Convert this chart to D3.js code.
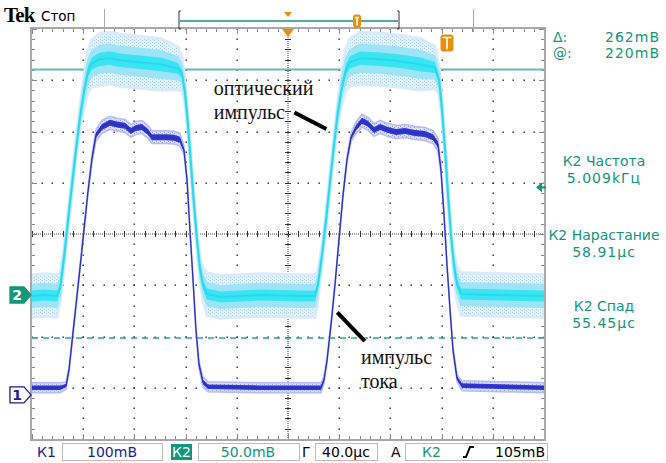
<!DOCTYPE html>
<html><head><meta charset="utf-8">
<script src="https://cdn.jsdelivr.net/npm/d3@7"></script>
<style>body{margin:0;background:#fff}svg{display:block}</style>
</head><body>
<svg id="c" width="666" height="463"></svg>
<script>
// ---------------- DATA ----------------
// Channel 2 (optical pulse), time in µs, value in mV, vertical noise spread in mV
const ch2Time  = [-200,-190,-180.5,-178,-175,-172,-168.8,-165.6,-162.5,-159.4,-156.3,-153.1,-146.9,-139.1,-131.3,-123.4,-115.6,-107.8,-100,-92.2,-85.9,-82.8,-80.5,-78.1,-75.8,-73.4,-71.1,-68.8,-66.4,-63.3,-53.1,-21.9,9.4,21.1,23.4,26.6,29.7,32.8,35.9,39.1,42.2,45.3,48.4,56.3,71.9,87.5,103.1,114.8,118,120.3,122.7,125,127.3,129.7,132,135.2,165.6,200];
const ch2Value = [-1,0,-1,7,36,71,107,142,173,198,218,226,230,231,229,228,227,226,225,223,221,216,198,166,127,88,54,26,10,1,-2,0,-1,-1,10,39,73,110,146,179,203,220,227,231,230,228,225,222,210,181,142,98,59,29,11,1,0,-1];
const ch2Spread= [9,9,9,6,4,4,4,4,5,7,9,10,11,11,11,11,11,11,11,10,9,7,5,4,4,4,4,5,7,9,9,9,9,9,6,4,4,4,4,5,7,9,10,11,11,11,11,9,6,4,4,4,4,5,7,9,9,9];
// Channel 1 (current pulse)
const ch1Time  = [-200,-178.1,-173.4,-171.1,-168.8,-165.6,-162.5,-159.4,-156.3,-153.1,-150,-145.3,-139.1,-132.8,-127.3,-122.7,-118.8,-114.1,-109.4,-106.3,-101.6,-95.3,-89.1,-84.4,-81.3,-78.9,-76.6,-74.2,-71.9,-69.5,-66.4,-62.5,-21.9,25.8,28.1,30.5,33.6,36.7,39.8,43,46.1,49.2,53.1,57.8,62.5,67.2,71.9,78.1,84.4,91.4,99.2,107,113.3,117.2,119.5,121.9,124.2,126.6,128.9,132,135.9,200];
const ch1Value = [14,14,18,49,102,176,248,322,396,462,507,523,531,527,525,515,521,523,513,503,503,503,502,498,478,420,322,224,127,59,25,16,14,14,29,68,137,215,302,390,459,502,521,535,529,517,523,517,513,515,511,509,503,488,439,351,254,166,88,33,18,14];
const ch1Spread= [7,7,5,4,4,4,4,4,4,6,8,9,9,9,9,9,9,9,9,9,9,9,9,9,6,4,4,4,4,5,7,7,7,7,5,4,4,4,4,4,4,6,8,9,9,9,9,9,9,9,9,9,9,9,6,4,4,4,4,5,7,7];

// Scope settings / readouts
const ch1MvPerDiv = 100, ch1PosDiv = -3.14;
const ch2MvPerDiv = 50,  ch2PosDiv = -1.19;
const timeRange = [-200, 200];          // µs, 40 µs/div
const cursorLevels = [220, -42];        // mV on K2
const triggerLevel = 105;               // mV on K2
const cursorReadLabels = ["Δ:", "@:"];
const cursorReadValues = ["262mВ", "220mВ"];
const measLabels = ["К2 Частота", "К2 Нарастание", "К2 Спад"];
const measValues = ["5.009kГц", "58.91μс", "55.45μс"];

// ---------------- DRAW ----------------
const svg = d3.select('#c');
const X0 = 32, X1 = 544, Y0 = 29, Y1 = 439;
const x = d3.scaleLinear().domain(timeRange).range([X0, X1]);
const yDiv = d3.scaleLinear().domain([-4, 4]).range([Y1, Y0]);
const chScale = (mv, pos) => d3.scaleLinear().domain([(-4 - pos) * mv, (4 - pos) * mv]).range([Y1, Y0]);
const y1 = chScale(ch1MvPerDiv, ch1PosDiv);
const y2 = chScale(ch2MvPerDiv, ch2PosDiv);

const TEAL = "#12977c", NAVY = "#1c1c8c", ORANGE = "#e8900c";

// speckle pattern for scatter bands (fixed, regular)
const defs = svg.append('defs');
function speckle(id, bg, dot) {
  const p = defs.append('pattern').attr('id', id).attr('width', 4).attr('height', 3).attr('patternUnits', 'userSpaceOnUse');
  p.append('rect').attr('width', 4).attr('height', 3).attr('fill', bg);
  p.append('rect').attr('x', 0).attr('y', 0).attr('width', 1).attr('height', 1).attr('fill', dot);
  p.append('rect').attr('x', 2).attr('y', 1).attr('width', 1).attr('height', 1).attr('fill', dot);
}
speckle('sp2', '#e4f2fd', '#a6d4f6');
speckle('sp1', '#dcdff8', '#9aa2ee');

// grid dots
const g = svg.append('g');
const minorT = d3.range(timeRange[0], timeRange[1] + 0.01, 8);
const minorD = d3.range(-4, 4.001, 0.2);
const dots = [];
[-160,-120,-80,-40,40,80,120,160].forEach(t => minorD.forEach(d => dots.push([x(t), yDiv(d)])));
[-3,-2,-1,1,2,3].forEach(d => minorT.forEach(t => dots.push([x(t), yDiv(d)])));
g.selectAll('rect.dot').data(dots).join('rect').attr('class','dot')
  .attr('x', d => Math.round(d[0]) - 0.5).attr('y', d => Math.round(d[1]) - 0.5)
  .attr('width', 1.4).attr('height', 1.4).attr('fill', '#222');

// center crosshair
g.append('line').attr('x1', x(0)).attr('x2', x(0)).attr('y1', Y0).attr('y2', Y1)
  .attr('stroke', '#444').attr('stroke-width', 1).attr('stroke-dasharray', '1,1');
g.append('line').attr('x1', X0).attr('x2', X1).attr('y1', yDiv(0)).attr('y2', yDiv(0))
  .attr('stroke', '#444').attr('stroke-width', 1).attr('stroke-dasharray', '1,1');
g.selectAll('line.ct').data(minorD).join('line').attr('class','ct')
  .attr('x1', x(0) - 3).attr('x2', x(0) + 3).attr('y1', d => Math.round(yDiv(d)) + 0.5).attr('y2', d => Math.round(yDiv(d)) + 0.5)
  .attr('stroke', '#333');
g.selectAll('line.cth').data(minorT).join('line').attr('class','cth')
  .attr('y1', yDiv(0) - 3).attr('y2', yDiv(0) + 3).attr('x1', d => Math.round(x(d)) + 0.5).attr('x2', d => Math.round(x(d)) + 0.5)
  .attr('stroke', '#333');

// frame ticks
const ft = svg.append('g').attr('stroke', '#888').attr('stroke-width', 1);
minorT.forEach((t, i) => {
  const L = (i % 5 === 0) ? 5 : 3, xx = Math.round(x(t)) + 0.5;
  ft.append('line').attr('x1', xx).attr('x2', xx).attr('y1', Y0).attr('y2', Y0 + L);
  ft.append('line').attr('x1', xx).attr('x2', xx).attr('y1', Y1).attr('y2', Y1 - L);
});
minorD.forEach((d, i) => {
  const L = (i % 5 === 0) ? 5 : 3, yy = Math.round(yDiv(d)) + 0.5;
  ft.append('line').attr('y1', yy).attr('y2', yy).attr('x1', X0).attr('x2', X0 + L);
  ft.append('line').attr('y1', yy).attr('y2', yy).attr('x1', X1).attr('x2', X1 - L);
});
svg.append('rect').attr('x', X0 - 1).attr('y', Y0 - 1).attr('width', X1 - X0 + 2).attr('height', Y1 - Y0 + 2)
  .attr('fill', 'none').attr('stroke', '#a8a8a8').attr('stroke-width', 2);

// cursors
svg.append('line').attr('x1', X0).attr('x2', X1).attr('y1', y2(cursorLevels[0])).attr('y2', y2(cursorLevels[0]))
  .attr('stroke', '#5cc0aa').attr('stroke-width', 2);
svg.append('line').attr('x1', X0).attr('x2', X1).attr('y1', y2(cursorLevels[1])).attr('y2', y2(cursorLevels[1]))
  .attr('stroke', '#2aa890').attr('stroke-width', 1.5).attr('stroke-dasharray', '6,5');

// traces
svg.append('clipPath').attr('id', 'clip').append('rect').attr('x', X0).attr('y', Y0).attr('width', X1 - X0).attr('height', Y1 - Y0);
const tr = svg.append('g').attr('clip-path', 'url(#clip)');
const ch2 = ch2Time.map((t, i) => ({t, v: ch2Value[i], n: ch2Spread[i]}));
const ch1 = ch1Time.map((t, i) => ({t, v: ch1Value[i], n: ch1Spread[i]}));
const band = (ys, k) => d3.area().x(d => x(d.t)).y0(d => ys(d.v - d.n * k)).y1(d => ys(d.v + d.n * k));
const line = ys => d3.line().x(d => x(d.t)).y(d => ys(d.v));

tr.append('path').datum(ch2).attr('d', band(y2, 2.3)).attr('fill', 'url(#sp2)').attr('stroke', '#d8ecfb').attr('stroke-width', 3);
tr.append('path').datum(ch2).attr('d', band(y2, 1.2)).attr('fill', '#9ee4f8').attr('stroke', '#9ee4f8').attr('stroke-width', 2);
tr.append('path').datum(ch2).attr('d', band(y2, 0.6)).attr('fill', '#3ae4f2');
tr.append('path').datum(ch2).attr('d', line(y2)).attr('fill', 'none').attr('stroke', '#22dcee').attr('stroke-width', 2);

tr.append('path').datum(ch1).attr('d', band(y1, 1.4)).attr('fill', 'url(#sp1)').attr('stroke', '#b6bcf2').attr('stroke-width', 1.5);
tr.append('path').datum(ch1).attr('d', band(y1, 0.65)).attr('fill', '#3038cc');
tr.append('path').datum(ch1).attr('d', line(y1)).attr('fill', 'none').attr('stroke', '#2a30c4').attr('stroke-width', 1.3);

// top trigger marker on graticule
svg.append('path').attr('d', `M${x(0) - 6},${Y0} L${x(0) + 6},${Y0} L${x(0)},${Y0 + 8} Z`).attr('fill', ORANGE);
// T marker
function tMarker(cx, cy, w, h) {
  svg.append('rect').attr('x', cx - w / 2).attr('y', cy - h / 2).attr('width', w).attr('height', h).attr('rx', 3).attr('fill', ORANGE);
  svg.append('path').attr('d', `M${cx - w / 2 + 2},${cy - h / 2 + 3} H${cx + w / 2 - 2} M${cx},${cy - h / 2 + 3} V${cy + h / 2 - 2}`)
    .attr('stroke', '#fff').attr('stroke-width', 1.6).attr('fill', 'none');
}
tMarker(447, 43, 13, 17);

// ground markers
const gm = (yy, label, fill, stroke, tc) => {
  svg.append('path').attr('d', `M10,${yy - 8} H24 L31,${yy} L24,${yy + 8} H10 Z`).attr('fill', fill).attr('stroke', stroke).attr('stroke-width', 1.3);
  svg.append('text').attr('x', 17).attr('y', yy + 5.5).attr('text-anchor', 'middle').attr('font-family', 'DejaVu Sans')
    .attr('font-weight', 'bold').attr('font-size', 14).attr('fill', tc).text(label);
};
gm(y2(0), '2', TEAL, TEAL, '#fff');
gm(y1(0), '1', '#fff', NAVY, NAVY);

// trigger level arrow on right
const ty = y2(triggerLevel);
svg.append('path').attr('d', `M536,${ty} L542,${ty - 5} L542,${ty - 1.2} L546,${ty - 1.2} L546,${ty + 1.2} L542,${ty + 1.2} L542,${ty + 5} Z`).attr('fill', TEAL);

// top bar
svg.append('text').attr('x', 4).attr('y', 22).attr('font-family', 'Liberation Serif').attr('font-weight', 'bold')
  .attr('font-size', 21).attr('fill', '#000').attr('letter-spacing', -0.8).text('Tek');
svg.append('text').attr('x', 41).attr('y', 21).attr('font-family', 'DejaVu Sans').attr('font-size', 13.5).attr('fill', '#000').text('Стоп');
svg.append('line').attr('x1', 104.5).attr('x2', 104.5).attr('y1', 9).attr('y2', 32).attr('stroke', '#aaa');
svg.append('line').attr('x1', 473.5).attr('x2', 473.5).attr('y1', 9).attr('y2', 32).attr('stroke', '#aaa');
svg.append('path').attr('d', 'M181,11 H179 V29 H181 M397,11 H399 V29 H397').attr('fill', 'none').attr('stroke', '#333').attr('stroke-width', 1);
svg.append('line').attr('x1', 180).attr('x2', 398).attr('y1', 21).attr('y2', 21).attr('stroke', TEAL).attr('stroke-width', 1.3);
svg.append('path').attr('d', 'M284,12 H292 L288,17 Z').attr('fill', ORANGE);
tMarker(357, 21, 8, 13);

// right readouts
const rf = {fam: 'DejaVu Sans', size: 14};
cursorReadLabels.forEach((l, i) => {
  svg.append('text').attr('x', 553).attr('y', 42 + i * 16).attr('font-family', rf.fam).attr('font-size', rf.size).attr('fill', TEAL).text(l);
  svg.append('text').attr('x', 660).attr('y', 42 + i * 16).attr('text-anchor', 'end').attr('font-family', rf.fam).attr('font-size', rf.size)
    .attr('letter-spacing', 1).attr('fill', TEAL).text(cursorReadValues[i]);
});
const measY = [166, 240, 311];
measLabels.forEach((l, i) => {
  svg.append('text').attr('x', 604).attr('y', measY[i]).attr('text-anchor', 'middle').attr('font-family', rf.fam).attr('font-size', rf.size).attr('fill', TEAL).text(l);
  svg.append('text').attr('x', 604).attr('y', measY[i] + 17).attr('text-anchor', 'middle').attr('font-family', rf.fam).attr('font-size', rf.size)
    .attr('letter-spacing', 1).attr('fill', TEAL).text(measValues[i]);
});

// bottom bar
const by = 457;
const bt = (xx, s, c, anchor) => svg.append('text').attr('x', xx).attr('y', by).attr('text-anchor', anchor || 'start')
  .attr('font-family', rf.fam).attr('font-size', 14).attr('fill', c).text(s);
const box = (xa, xb) => svg.append('rect').attr('x', xa + 0.5).attr('y', 443.5).attr('width', xb - xa).attr('height', 17).attr('fill', 'none').attr('stroke', '#bbb');
box(62, 162); box(198, 299); box(315, 377); box(405, 547);
bt(37, 'К1', NAVY); bt(112, '100mВ', NAVY, 'middle');
svg.append('rect').attr('x', 171).attr('y', 444).attr('width', 21).attr('height', 16).attr('fill', TEAL);
bt(181.5, 'К2', '#fff', 'middle');
bt(248, '50.0mВ', TEAL, 'middle');
bt(302, 'Г', '#000');
bt(346, '40.0μс', '#000', 'middle');
bt(391, 'А', '#000');
bt(422, 'К2', TEAL);
svg.append('path').attr('d', 'M463,457 H466 L470,447 H474').attr('fill', 'none').attr('stroke', '#000').attr('stroke-width', 2);
bt(545, '105mВ', '#000', 'end');

// annotations (placed in chart coordinates, K2 scale)
const ann = svg.append('g').attr('font-family', 'Liberation Serif').attr('font-size', 20).attr('fill', '#111');
ann.append('text').attr('x', x(-58)).attr('y', y2(195)).text('оптический');
ann.append('text').attr('x', x(-58)).attr('y', y2(172)).text('импульс');
ann.append('line').attr('x1', x(5)).attr('y1', y2(178)).attr('x2', x(30)).attr('y2', y2(162)).attr('stroke', '#000').attr('stroke-width', 4);
ann.append('text').attr('x', x(57)).attr('y', y2(-67)).text('импульс');
ann.append('text').attr('x', x(57)).attr('y', y2(-91)).text('тока');
ann.append('line').attr('x1', x(38.5)).attr('y1', y2(-17)).attr('x2', x(60)).attr('y2', y2(-45)).attr('stroke', '#000').attr('stroke-width', 4);
</script>
</body></html>
